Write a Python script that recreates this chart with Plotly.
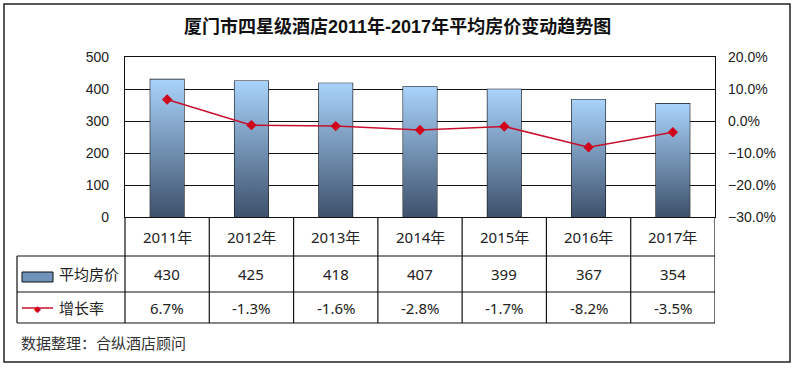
import plotly.graph_objects as go

years = ["2011年", "2012年", "2013年", "2014年", "2015年", "2016年", "2017年"]
avg_price = [430, 425, 418, 407, 399, 367, 354]
growth = [6.7, -1.3, -1.6, -2.8, -1.7, -8.2, -3.5]
series_names = ["平均房价", "增长率"]
title_text = "厦门市四星级酒店2011年-2017年平均房价变动趋势图"
source_text = "数据整理：合纵酒店顾问"

W, H = 800, 368
L, R, T, B = 125, 715, 57, 217  # plot area in px
BAR_W = 0.4
FONT = "Noto Sans, Noto Sans CJK SC, sans-serif"
TFONT = "Liberation Sans, Noto Sans CJK SC, sans-serif"
LIGHT = "#a9d3fb"
DARK = "#3d516b"
RED = "#d0021b"


def px(xp):
    return (xp - L) / (R - L)


def py(yp):
    return (B - yp) / (B - T)


xs = list(range(len(years)))
fig = go.Figure()

# gradient fills for bars
for i, v in zip(xs, avg_price):
    fig.add_trace(go.Scatter(
        x=[i - BAR_W / 2, i + BAR_W / 2, i + BAR_W / 2, i - BAR_W / 2, i - BAR_W / 2],
        y=[0, 0, v, v, 0],
        mode="lines", line=dict(width=0), fill="toself",
        fillgradient=dict(type="vertical", colorscale=[[0, DARK], [1, LIGHT]]),
        hoverinfo="skip", showlegend=False,
    ))

fig.add_trace(go.Bar(
    x=xs, y=avg_price, width=BAR_W, name=series_names[0],
    marker=dict(color="rgba(0,0,0,0)", line=dict(color="#111", width=1.2)),
    showlegend=False,
))

fig.add_trace(go.Scatter(
    x=xs, y=growth, yaxis="y2", name=series_names[1], mode="lines+markers",
    line=dict(color="#c8102e", width=1.5),
    marker=dict(symbol="diamond", size=8, color=RED),
    showlegend=False,
))

shapes = []
line_k = dict(color="#111", width=1.2)
# outer frame
shapes.append(dict(type="rect", xref="paper", yref="paper",
                   x0=px(4), x1=px(790), y0=py(362), y1=py(4),
                   line=dict(color="#222", width=1.5), layer="below"))
# table grid
shapes.append(dict(type="line", xref="paper", yref="paper", x0=px(L), x1=px(L), y0=py(217), y1=py(323), line=line_k))
for k in range(len(years)):
    shapes.append(dict(type="line", xref="x", yref="paper", x0=k + 0.5, x1=k + 0.5,
                       y0=py(217), y1=py(323), line=line_k))
shapes.append(dict(type="line", xref="paper", yref="paper", x0=px(17), x1=px(17), y0=py(256), y1=py(323), line=line_k))
for yy in (256, 292, 323):
    shapes.append(dict(type="line", xref="paper", yref="paper", x0=px(17), x1=px(R),
                       y0=py(yy), y1=py(yy), line=line_k))
# legend keys
shapes.append(dict(type="rect", xref="paper", yref="paper", x0=px(22), x1=px(53), y0=py(282), y1=py(272),
                   fillcolor="#6f93bb", line=dict(color="#111", width=1)))
shapes.append(dict(type="line", xref="paper", yref="paper", x0=px(22), x1=px(53), y0=py(308), y1=py(308),
                   line=dict(color="#c8102e", width=1.5)))

annotations = []
tf = dict(family=FONT, size=15, color="#222")
common = dict(showarrow=False, yref="paper", yanchor="middle")
for i in xs:
    annotations.append(dict(x=i, xref="x", xanchor="center", y=py(236.5), text=years[i], font=tf, **common))
    annotations.append(dict(x=i, xref="x", xanchor="center", y=py(274), text=str(avg_price[i]), font=tf, **common))
    annotations.append(dict(x=i, xref="x", xanchor="center", y=py(308), text=f"{growth[i]:.1f}%", font=tf, **common))
annotations.append(dict(x=px(57), xref="paper", y=py(274), xanchor="left", text=series_names[0], font=tf, **common))
annotations.append(dict(x=px(57), xref="paper", y=py(308), xanchor="left", text=series_names[1], font=tf, **common))
annotations.append(dict(x=px(37.5), xref="paper", y=py(308), xanchor="center", text="◆",
                        font=dict(size=9, color=RED), **common))
annotations.append(dict(x=px(19), xref="paper", y=py(343), xanchor="left", text=source_text,
                        font=dict(family=FONT, size=15, color="#333"), **common))

fig.update_layout(
    width=W, height=H,
    margin=dict(l=L, r=W - R, t=T, b=H - B, pad=0),
    paper_bgcolor="white", plot_bgcolor="white",
    title=dict(text=title_text, x=0.497, xanchor="center", y=1 - 27 / H, yanchor="middle",
               font=dict(family=TFONT, size=18, color="#111", weight="bold")),
    xaxis=dict(range=[-0.5, len(years) - 0.5], showticklabels=False, showgrid=False, zeroline=False,
               showline=True, linecolor="#111", linewidth=1.2, mirror=True, ticks=""),
    yaxis=dict(range=[0, 500], dtick=100, showgrid=True, gridcolor="#111", gridwidth=1,
               zeroline=False, showline=True, linecolor="#111", linewidth=1.2, mirror=True,
               ticks="", ticklabelstandoff=12,
               tickfont=dict(family="Liberation Sans", size=14, color="#222")),
    yaxis2=dict(range=[-30, 20], dtick=10, overlaying="y", side="right", showgrid=False, zeroline=False,
                tickformat=".1f", ticksuffix="%", ticks="", ticklabelstandoff=12,
                tickfont=dict(family="Liberation Sans", size=14, color="#222")),
    shapes=shapes, annotations=annotations,
    showlegend=False,
)

fig.write_html("out.html", config={"displayModeBar": False},
               post_script="document.body.style.margin='0';document.body.style.overflow='hidden';")
